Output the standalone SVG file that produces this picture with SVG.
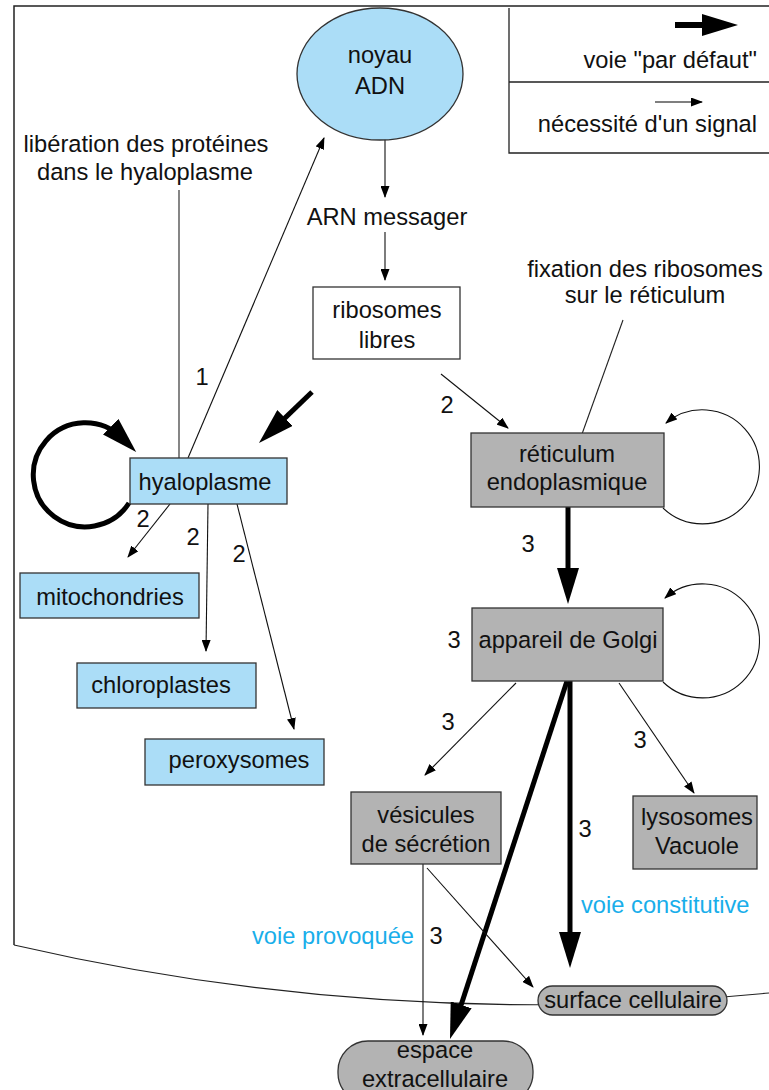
<svg xmlns="http://www.w3.org/2000/svg" width="769" height="1090" viewBox="0 0 769 1090">
<style>
text{font-family:"Liberation Sans",Arial,sans-serif;font-size:23.7px;fill:#111;text-anchor:middle}
.blue{fill:#19aeea}
.st{text-anchor:start}
.en{text-anchor:end}
.blueBox{fill:#abddf7;stroke:#333;stroke-width:1.3}
.grayBox{fill:#b3b3b3;stroke:#333;stroke-width:1.3}
.whiteBox{fill:#fff;stroke:#333;stroke-width:1.3}
.thin{fill:none;stroke:#111;stroke-width:1.1;marker-end:url(#ah)}
.plain{fill:none;stroke:#222;stroke-width:1.1}
.thick{fill:none;stroke:#000;stroke-width:5;marker-end:url(#AH)}
</style>
<defs>
<marker id="ah" markerUnits="userSpaceOnUse" markerWidth="12" markerHeight="9" refX="11" refY="4.5" orient="auto">
<path d="M0,0 L12,4.5 L0,9 z" fill="#000"/>
</marker>
<marker id="AH" markerUnits="userSpaceOnUse" markerWidth="36" markerHeight="22" refX="16" refY="11" orient="auto">
<path d="M0,0 L36,11 L0,22 z" fill="#000"/>
</marker>
</defs>
<rect width="769" height="1090" fill="#fff"/>
<g id="cell-boundary">
<path d="M769,6 H14 V945" fill="none" stroke="#222" stroke-width="1.5"/>
<path d="M14,945 A2325,2325 0 0 0 769,993" fill="none" stroke="#222" stroke-width="1.2"/>
</g>
<g id="legend">
<path d="M509,8 V153 H769 M509,82 H769" fill="none" stroke="#222" stroke-width="1.3"/>
<line x1="675" y1="25" x2="718" y2="25" stroke="#000" stroke-width="6" marker-end="url(#AH)"/>
<line x1="655" y1="102" x2="702" y2="102" stroke="#000" stroke-width="1.1" marker-end="url(#ah)"/>
<text class="en" x="757" y="68">voie "par défaut"</text>
<text class="en" x="757" y="132">nécessité d'un signal</text>
</g>
<g id="connectors">
<line class="thin" x1="385" y1="108" x2="385" y2="197"/>
<line class="thin" x1="385" y1="232" x2="385" y2="280"/>
<line class="thin" x1="441" y1="374" x2="508" y2="428"/>
<line class="plain" x1="623" y1="320" x2="582" y2="434"/>
<line class="plain" x1="179" y1="190" x2="179" y2="458"/>
<line class="thin" x1="188" y1="458" x2="324" y2="138"/>
<line class="thick" x1="312" y1="392" x2="273.4" y2="429.1"/>
<path class="thick" d="M129,503 A52,52 0 1 1 122,438"/>
<line class="thin" x1="170" y1="504" x2="128" y2="557"/>
<line class="thin" x1="208" y1="504" x2="206" y2="651"/>
<line class="thin" x1="237" y1="504" x2="294" y2="729"/>
<path class="thin" d="M663,508 A57,57 0 1 0 666,423"/>
<line class="thick" x1="568" y1="507" x2="568" y2="584"/>
<path class="thin" d="M663,682 A57,57 0 1 0 665,598"/>
<line class="thin" x1="516" y1="683" x2="425" y2="775"/>
<line class="thin" x1="619" y1="683" x2="694" y2="793"/>
<line class="thick" x1="570" y1="681" x2="570" y2="948"/>
<line class="thick" x1="567" y1="681" x2="456.2" y2="1020"/>
<line class="thin" x1="423" y1="864" x2="423" y2="1035"/>
<line class="thin" x1="427" y1="868" x2="533" y2="987"/>
</g>
<g id="labels">
<text x="202" y="385">1</text>
<text x="447" y="413">2</text>
<text x="143" y="527">2</text>
<text x="193" y="545">2</text>
<text x="239" y="562">2</text>
<text x="528" y="552">3</text>
<text x="454" y="648">3</text>
<text x="448" y="730">3</text>
<text x="640" y="748">3</text>
<text x="585" y="837">3</text>
<text x="436" y="944">3</text>
<text class="blue st" x="581" y="913">voie constitutive</text>
<text class="blue en" x="414" y="944">voie provoquée</text>
<text x="146" y="152">libération des protéines</text>
<text x="145" y="180">dans le hyaloplasme</text>
<text x="387" y="225">ARN messager</text>
<text x="645" y="277">fixation des ribosomes</text>
<text x="645" y="303">sur le réticulum</text>
</g>
<g id="noyau">
<ellipse cx="380" cy="74" rx="83" ry="66" fill="#abddf7" stroke="#333" stroke-width="1.3"/>
<text x="380" y="63">noyau</text>
<text x="380" y="94">ADN</text>
</g>
<g id="ribosomes">
<rect class="whiteBox" x="313" y="287" width="147" height="72"/>
<text x="387" y="318">ribosomes</text>
<text x="387" y="348">libres</text>
</g>
<g id="hyaloplasme">
<rect class="blueBox" x="130" y="458" width="157" height="46"/>
<text x="205" y="490">hyaloplasme</text>
</g>
<g id="mitochondries">
<rect class="blueBox" x="20" y="573" width="179" height="45"/>
<text x="110" y="605">mitochondries</text>
</g>
<g id="chloroplastes">
<rect class="blueBox" x="77" y="663" width="179" height="45"/>
<text x="161" y="693">chloroplastes</text>
</g>
<g id="peroxysomes">
<rect class="blueBox" x="145" y="739" width="179" height="46"/>
<text x="239" y="768">peroxysomes</text>
</g>
<g id="reticulum">
<rect class="grayBox" x="471" y="433" width="193" height="74"/>
<text x="567" y="462">réticulum</text>
<text x="567" y="490">endoplasmique</text>
</g>
<g id="golgi">
<rect class="grayBox" x="472" y="608" width="191" height="73"/>
<text x="568" y="648">appareil de Golgi</text>
</g>
<g id="vesicules">
<rect class="grayBox" x="351" y="792" width="150" height="72"/>
<text x="426" y="823">vésicules</text>
<text x="426" y="852">de sécrétion</text>
</g>
<g id="lysosomes">
<rect class="grayBox" x="633" y="796" width="124" height="73"/>
<text x="697" y="825">lysosomes</text>
<text x="697" y="854">Vacuole</text>
</g>
<g id="surface">
<rect class="grayBox" x="538" y="986" width="189" height="29" rx="14.5"/>
<text x="633" y="1008">surface cellulaire</text>
</g>
<g id="espace">
<rect class="grayBox" x="338" y="1041" width="195" height="62" rx="30"/>
<text x="435" y="1058">espace</text>
<text x="435" y="1087">extracellulaire</text>
</g>
</svg>
